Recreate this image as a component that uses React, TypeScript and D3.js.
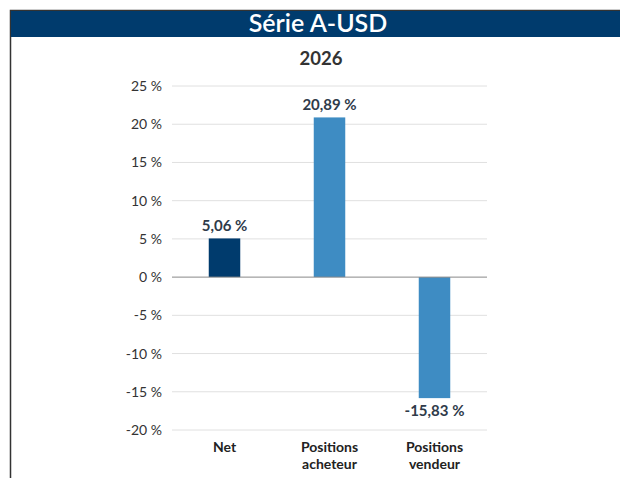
import React, { useEffect, useRef } from 'react';
import * as d3 from 'd3';

const title = 'Série A-USD';
const subtitle = '2026';
const categories = ['Net', 'Positions acheteur', 'Positions vendeur'];
const categoryLines = [['Net'], ['Positions', 'acheteur'], ['Positions', 'vendeur']];
const values = [5.06, 20.89, -15.83];
const barColors = ['#003b6d', '#3e8cc3', '#3e8cc3'];
const yTicks = [25, 20, 15, 10, 5, 0, -5, -10, -15, -20];

const App = () => {
    const [width, height] = [620, 478];
    const ref = useRef<SVGSVGElement>(null);

    useEffect(() => {
        const svg = d3.select(ref.current);
        svg.selectAll('*').remove();
        const font = 'Lato, "Open Sans", sans-serif';

        // frame + title bar
        svg.append('rect')
            .attr('x', 10.5).attr('y', 10.5)
            .attr('width', width).attr('height', height)
            .attr('fill', '#fff')
            .attr('stroke', '#333').attr('stroke-width', 1.5);
        svg.append('rect')
            .attr('x', 11).attr('y', 11)
            .attr('width', width - 11).attr('height', 26)
            .attr('fill', '#003b6d');
        svg.append('text')
            .attr('x', 318).attr('y', 32)
            .attr('text-anchor', 'middle')
            .style('font-family', font).style('font-size', '25px').style('font-weight', 600)
            .attr('fill', '#fff')
            .text(title);
        svg.append('text')
            .attr('x', 321).attr('y', 65)
            .attr('text-anchor', 'middle')
            .style('font-family', font).style('font-size', '18.5px').style('font-weight', 700)
            .attr('fill', '#333')
            .text(subtitle);

        const x = d3.scaleBand()
            .domain(categories)
            .range([172, 487])
            .paddingInner(0.7)
            .paddingOuter(0.35);
        const y = d3.scaleLinear()
            .domain([-20, 25])
            .range([430, 86]);

        // grid
        svg.append('g')
            .selectAll('line')
            .data(yTicks.filter((t) => t !== 0))
            .join('line')
            .attr('x1', 172).attr('x2', 487)
            .attr('y1', (d) => y(d)).attr('y2', (d) => y(d))
            .attr('stroke', '#e0e0e0').attr('stroke-width', 1);

        // y labels
        svg.append('g')
            .selectAll('text')
            .data(yTicks)
            .join('text')
            .attr('x', 162)
            .attr('y', (d) => y(d) + 5)
            .attr('text-anchor', 'end')
            .style('font-family', font).style('font-size', '14px')
            .attr('fill', '#333')
            .text((d) => `${d} %`);

        // bars
        svg.append('g')
            .selectAll('rect')
            .data(values)
            .join('rect')
            .attr('x', (d, i) => x(categories[i])!)
            .attr('width', x.bandwidth())
            .attr('y', (d) => y(Math.max(0, d)))
            .attr('height', (d) => Math.abs(y(d) - y(0)))
            .attr('fill', (d, i) => barColors[i]);

        // zero line
        svg.append('line')
            .attr('x1', 172).attr('x2', 487)
            .attr('y1', y(0)).attr('y2', y(0))
            .attr('stroke', '#888').attr('stroke-width', 1);

        // value labels
        svg.append('g')
            .selectAll('text')
            .data(values)
            .join('text')
            .attr('x', (d, i) => x(categories[i])! + x.bandwidth() / 2)
            .attr('y', (d) => (d >= 0 ? y(d) - 7 : y(d) + 18))
            .attr('text-anchor', 'middle')
            .style('font-family', font).style('font-size', '15px').style('font-weight', 700)
            .attr('fill', '#2f3b4a')
            .text((d) => `${d.toFixed(2).replace('.', ',')} %`);

        // category labels
        categoryLines.forEach((lines, i) => {
            const t = svg.append('text')
                .attr('text-anchor', 'middle')
                .style('font-family', font).style('font-size', '14px').style('font-weight', 700)
                .attr('fill', '#222');
            lines.forEach((l, j) => {
                t.append('tspan')
                    .attr('x', x(categories[i])! + x.bandwidth() / 2)
                    .attr('y', 452 + j * 16.5)
                    .text(l);
            });
        });
    }, []);

    return (
        <svg ref={ref} width={width} height={height}
            style={{ position: 'absolute', left: 0, top: 0, display: 'block' }} />
    );
};

export default App;
